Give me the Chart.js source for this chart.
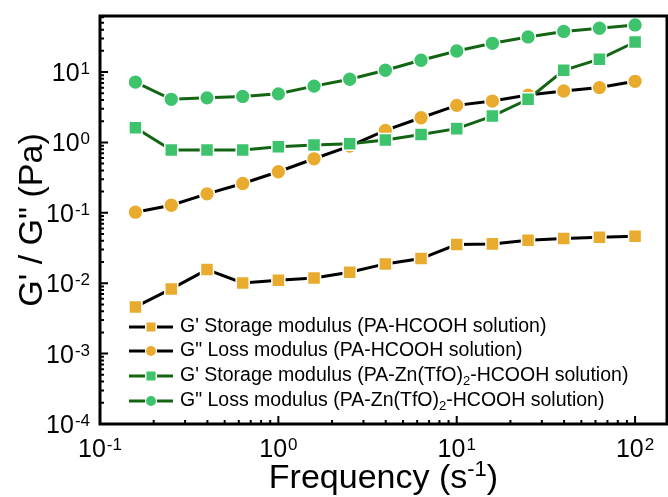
<!DOCTYPE html>
<html>
<head>
<meta charset="utf-8">
<script src="https://cdn.jsdelivr.net/npm/chart.js@4"></script>
<style>
  html, body { margin: 0; padding: 0; background: #fff; }
  canvas { display: block; }
</style>
</head>
<body>
<canvas id="modulusChart" width="668" height="497"></canvas>
<script>
// Frequência (s^-1), 5 pontos por década
const freq = [0.158, 0.251, 0.398, 0.631, 1, 1.585, 2.512, 3.981, 6.31, 10, 15.85, 25.12, 39.81, 63.1, 100];

// Módulos (Pa)
const storagePA = [0.0046, 0.0083, 0.0156, 0.0101, 0.0110, 0.0119, 0.0143, 0.0188, 0.0224, 0.0354, 0.0362, 0.0408, 0.043, 0.045, 0.0465];
const lossPA = [0.102, 0.128, 0.186, 0.261, 0.383, 0.586, 0.886, 1.48, 2.24, 3.36, 3.87, 4.7, 5.38, 6.01, 7.38];
const storageZn = [1.62, 0.78, 0.78, 0.78, 0.87, 0.92, 0.96, 1.08, 1.30, 1.57, 2.37, 4.1, 10.6, 15.2, 26.7];
const lossZn = [7.2, 4.1, 4.3, 4.5, 4.9, 6.3, 7.9, 10.6, 14.7, 19.9, 25.6, 31.5, 37.7, 41.9, 46.6];

const seriesNames = [
  "G' Storage modulus (PA-HCOOH solution)",
  'G" Loss modulus (PA-HCOOH solution)',
  "G' Storage modulus (PA-Zn(TfO)_2-HCOOH solution)",
  'G" Loss modulus (PA-Zn(TfO)_2-HCOOH solution)'
];

const xTickExp = [-1, 0, 1, 2];
const yTickExp = [-4, -3, -2, -1, 0, 1];

const ORANGE = '#E9AB2E';
const GREEN = '#3CC36C';
const DARKGREEN = '#136513';
const FONT = "'Liberation Sans', Arial, sans-serif";

const toXY = vals => vals.map((v, i) => ({ x: freq[i], y: v }));

function series(label, vals, line, fill, style, order) {
  return {
    label: label,
    data: toXY(vals),
    borderColor: line,
    borderWidth: 3,
    backgroundColor: fill,
    pointBackgroundColor: fill,
    pointBorderColor: '#fff',
    pointBorderWidth: 1.5,
    pointStyle: style,
    pointRadius: style === 'rect' ? 9.2 : 7.4,
    tension: 0,
    order: order
  };
}

function drawPow(ctx, exp, x, yBase, size, supSize, align) {
  ctx.font = size + 'px ' + FONT;
  const wMain = ctx.measureText('10').width;
  ctx.font = supSize + 'px ' + FONT;
  const supTxt = String(exp);
  const wSup = ctx.measureText(supTxt).width;
  const total = wMain + 1 + wSup;
  let left = x;
  if (align === 'right') left = x - total;
  else if (align === 'center') left = x - total / 2;
  ctx.textAlign = 'left';
  ctx.textBaseline = 'alphabetic';
  ctx.font = size + 'px ' + FONT;
  ctx.fillText('10', left, yBase);
  ctx.font = supSize + 'px ' + FONT;
  ctx.fillText(supTxt, left + wMain + 1, yBase - 7);
}

function drawRich(ctx, text, x, y, size) {
  const parts = text.split(/_(\d)/);
  let cx = x;
  ctx.textAlign = 'left';
  ctx.textBaseline = 'middle';
  parts.forEach((p, i) => {
    if (i % 2 === 1) {
      ctx.font = Math.round(size * 0.65) + 'px ' + FONT;
      ctx.fillText(p, cx, y + 5);
    } else {
      ctx.font = size + 'px ' + FONT;
      ctx.fillText(p, cx, y);
    }
    cx += ctx.measureText(p).width;
  });
}

const decor = {
  id: 'decor',
  afterDraw(chart) {
    const { ctx, chartArea: a, scales: { x, y } } = chart;
    ctx.save();
    ctx.fillStyle = '#000';
    ctx.strokeStyle = '#000';

    // ticks (inward, left + bottom)
    ctx.lineWidth = 2;
    ctx.beginPath();
    for (let e = -4; e <= 1; e++) {
      for (let m = 1; m <= 9; m++) {
        const v = m * Math.pow(10, e);
        if (v > y.max) break;
        const py = y.getPixelForValue(v);
        const len = m === 1 ? 8 : 4;
        ctx.moveTo(a.left, py);
        ctx.lineTo(a.left + len, py);
      }
    }
    for (let e = -1; e <= 2; e++) {
      for (let m = 1; m <= 9; m++) {
        const v = m * Math.pow(10, e);
        if (v > x.max) break;
        const px = x.getPixelForValue(v);
        const len = m === 1 ? 8 : 4;
        ctx.moveTo(px, a.bottom);
        ctx.lineTo(px, a.bottom - len);
      }
    }
    ctx.stroke();

    // frame
    ctx.lineWidth = 3;
    ctx.strokeRect(a.left, a.top, a.right - a.left, a.bottom - a.top);

    // tick labels
    yTickExp.forEach(e => {
      const py = y.getPixelForValue(Math.pow(10, e));
      drawPow(ctx, e, a.left - 10, py + 9, 25, 17, 'right');
    });
    xTickExp.forEach(e => {
      const px = x.getPixelForValue(Math.pow(10, e));
      drawPow(ctx, e, px, 457, 25, 17, 'center');
    });

    // axis titles
    ctx.save();
    ctx.translate(42, (a.top + a.bottom) / 2);
    ctx.rotate(-Math.PI / 2);
    ctx.font = '34px ' + FONT;
    ctx.textAlign = 'center';
    ctx.textBaseline = 'alphabetic';
    ctx.fillText('G\' / G" (Pa)', 0, 0);
    ctx.restore();

    ctx.font = '34px ' + FONT;
    const t1 = 'Frequency (s', t2 = '-1', t3 = ')';
    const w1 = ctx.measureText(t1).width, w3 = ctx.measureText(t3).width;
    ctx.font = '22px ' + FONT;
    const w2 = ctx.measureText(t2).width;
    let tx = (a.left + a.right) / 2 - (w1 + w2 + w3) / 2;
    ctx.textAlign = 'left';
    ctx.textBaseline = 'alphabetic';
    ctx.font = '34px ' + FONT;
    ctx.fillText(t1, tx, 488);
    ctx.font = '22px ' + FONT;
    ctx.fillText(t2, tx + w1, 476);
    ctx.font = '34px ' + FONT;
    ctx.fillText(t3, tx + w1 + w2, 488);

    // legend
    const rows = [327, 351, 376, 401];
    chart.data.datasets.forEach((ds, i) => {
      const ry = rows[i];
      ctx.strokeStyle = ds.borderColor;
      ctx.lineWidth = 3;
      ctx.beginPath();
      ctx.moveTo(129, ry); ctx.lineTo(145, ry);
      ctx.moveTo(157, ry); ctx.lineTo(173, ry);
      ctx.stroke();
      ctx.fillStyle = ds.backgroundColor;
      if (ds.pointStyle === 'rect') {
        ctx.fillRect(151 - 4.5, ry - 4.5, 9, 9);
      } else {
        ctx.beginPath();
        ctx.arc(151, ry, 5, 0, Math.PI * 2);
        ctx.fill();
      }
      ctx.fillStyle = '#000';
      drawRich(ctx, ds.label, 180, ry, 19.5);
    });
    ctx.restore();
  }
};

new Chart(document.getElementById('modulusChart'), {
  type: 'line',
  data: {
    datasets: [
      series(seriesNames[0], storagePA, '#000', ORANGE, 'rect', 2),
      series(seriesNames[1], lossPA, '#000', ORANGE, 'circle', 2),
      series(seriesNames[2], storageZn, DARKGREEN, GREEN, 'rect', 1),
      series(seriesNames[3], lossZn, DARKGREEN, GREEN, 'circle', 1)
    ]
  },
  options: {
    responsive: false,
    animation: false,
    layout: { autoPadding: false, padding: { left: 100, top: 16, right: 1, bottom: 73 } },
    scales: {
      x: { type: 'logarithmic', display: false, min: 0.1, max: 151 },
      y: { type: 'logarithmic', display: false, min: 1e-4, max: 62.5 }
    },
    plugins: {
      legend: { display: false },
      tooltip: { enabled: false }
    }
  },
  plugins: [decor]
});
</script>
</body>
</html>
